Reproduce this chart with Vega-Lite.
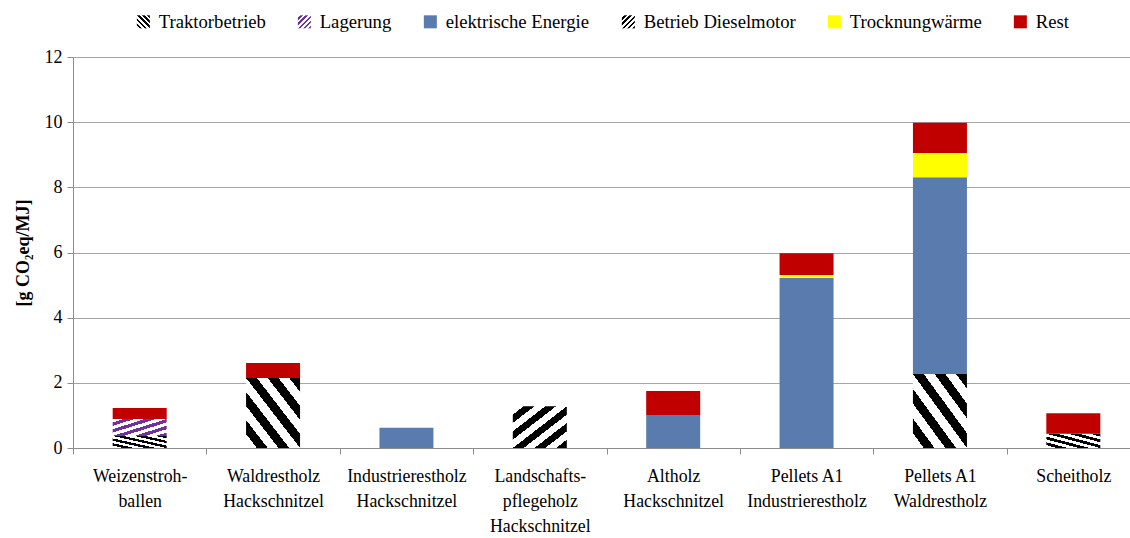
{
  "$schema": "https://vega.github.io/schema/vega-lite/v6.json",
  "width": 1067,
  "height": 391,
  "autosize": "none",
  "padding": {"left": 73, "top": 57, "right": 0, "bottom": 90},
  "background": "white",
  "config": {
    "view": {"stroke": null},
    "font": "Liberation Serif",
    "axis": {"labelFont": "Liberation Serif", "titleFont": "Liberation Serif", "labelColor": "black", "titleColor": "black"},
    "legend": {"labelFont": "Liberation Serif"}
  },
  "data": {
    "values": [
      {"category": "Weizenstroh-\nballen", "component": "Traktorbetrieb", "value": 0.37, "k": 1},
      {"category": "Weizenstroh-\nballen", "component": "Lagerung", "value": 0.52, "k": 2},
      {"category": "Weizenstroh-\nballen", "component": "Rest", "value": 0.34, "k": 6},
      {"category": "Waldrestholz\nHackschnitzel", "component": "Traktorbetrieb", "value": 2.15, "k": 1},
      {"category": "Waldrestholz\nHackschnitzel", "component": "Rest", "value": 0.46, "k": 6},
      {"category": "Industrierestholz\nHackschnitzel", "component": "elektrische Energie", "value": 0.62, "k": 3},
      {"category": "Landschafts-\npflegeholz\nHackschnitzel", "component": "Betrieb Dieselmotor", "value": 1.28, "k": 4},
      {"category": "Altholz\nHackschnitzel", "component": "elektrische Energie", "value": 1.01, "k": 3},
      {"category": "Altholz\nHackschnitzel", "component": "Rest", "value": 0.74, "k": 6},
      {"category": "Pellets A1\nIndustrierestholz", "component": "elektrische Energie", "value": 5.22, "k": 3},
      {"category": "Pellets A1\nIndustrierestholz", "component": "Trocknungwärme", "value": 0.09, "k": 5},
      {"category": "Pellets A1\nIndustrierestholz", "component": "Rest", "value": 0.67, "k": 6},
      {"category": "Pellets A1\nWaldrestholz", "component": "Traktorbetrieb", "value": 2.27, "k": 1},
      {"category": "Pellets A1\nWaldrestholz", "component": "elektrische Energie", "value": 6.04, "k": 3},
      {"category": "Pellets A1\nWaldrestholz", "component": "Trocknungwärme", "value": 0.74, "k": 5},
      {"category": "Pellets A1\nWaldrestholz", "component": "Rest", "value": 0.93, "k": 6},
      {"category": "Scheitholz", "component": "Traktorbetrieb", "value": 0.44, "k": 1},
      {"category": "Scheitholz", "component": "Rest", "value": 0.63, "k": 6}
    ]
  },
  "mark": {"type": "bar", "width": 54},
  "encoding": {
    "x": {
      "field": "category",
      "type": "nominal",
      "sort": null,
      "scale": {"paddingInner": 0, "paddingOuter": 0},
      "axis": {
        "title": null,
        "labelAngle": 0,
        "labelExpr": "split(datum.label, '\\n')",
        "tickBand": "extent",
        "labelFontSize": 17.8,
        "labelPadding": 13,
        "labelLineHeight": 25,
        "labelBaseline": "top",
        "domainColor": "#8c8c8c",
        "tickColor": "#8c8c8c",
        "tickSize": 6
      }
    },
    "y": {
      "field": "value",
      "type": "quantitative",
      "stack": "zero",
      "scale": {"domain": [0, 12], "nice": false},
      "axis": {
        "values": [0, 2, 4, 6, 8, 10, 12],
        "title": "[g CO₂eq/MJ]",
        "titleFontSize": 18,
        "titleFontWeight": "bold",
        "titlePadding": 12,
        "labelFontSize": 18,
        "labelPadding": 5,
        "grid": true,
        "gridColor": "#a6a6a6",
        "domainColor": "#8c8c8c",
        "tickColor": "#8c8c8c",
        "tickSize": 6
      }
    },
    "color": {
      "field": "component",
      "type": "nominal",
      "scale": {
        "domain": ["Traktorbetrieb", "Lagerung", "elektrische Energie", "Betrieb Dieselmotor", "Trocknungwärme", "Rest"],
        "range": [
          {"expr": "{gradient:'linear',x1:0,y1:1,x2:1,y2:0,stops:[{offset:0,color:'white'},{offset:0.1,color:'white'},{offset:0.1,color:'black'},{offset:0.2,color:'black'},{offset:0.2,color:'white'},{offset:0.3,color:'white'},{offset:0.3,color:'black'},{offset:0.4,color:'black'},{offset:0.4,color:'white'},{offset:0.5,color:'white'},{offset:0.5,color:'black'},{offset:0.6,color:'black'},{offset:0.6,color:'white'},{offset:0.7,color:'white'},{offset:0.7,color:'black'},{offset:0.8,color:'black'},{offset:0.8,color:'white'},{offset:0.9,color:'white'},{offset:0.9,color:'black'},{offset:1,color:'black'}]}"},
          {"expr": "{gradient:'linear',x1:0,y1:0,x2:1,y2:1,stops:[{offset:0,color:'white'},{offset:0.1,color:'white'},{offset:0.1,color:'#7030a0'},{offset:0.2,color:'#7030a0'},{offset:0.2,color:'white'},{offset:0.3,color:'white'},{offset:0.3,color:'#7030a0'},{offset:0.4,color:'#7030a0'},{offset:0.4,color:'white'},{offset:0.5,color:'white'},{offset:0.5,color:'#7030a0'},{offset:0.6,color:'#7030a0'},{offset:0.6,color:'white'},{offset:0.7,color:'white'},{offset:0.7,color:'#7030a0'},{offset:0.8,color:'#7030a0'},{offset:0.8,color:'white'},{offset:0.9,color:'white'},{offset:0.9,color:'#7030a0'},{offset:1,color:'#7030a0'}]}"},
          "#5a7bad",
          {"expr": "{gradient:'linear',x1:0,y1:0,x2:1,y2:1,stops:[{offset:0,color:'white'},{offset:0.1,color:'white'},{offset:0.1,color:'black'},{offset:0.2,color:'black'},{offset:0.2,color:'white'},{offset:0.3,color:'white'},{offset:0.3,color:'black'},{offset:0.4,color:'black'},{offset:0.4,color:'white'},{offset:0.5,color:'white'},{offset:0.5,color:'black'},{offset:0.6,color:'black'},{offset:0.6,color:'white'},{offset:0.7,color:'white'},{offset:0.7,color:'black'},{offset:0.8,color:'black'},{offset:0.8,color:'white'},{offset:0.9,color:'white'},{offset:0.9,color:'black'},{offset:1,color:'black'}]}"},
          "#ffff00",
          "#c00000"
        ]
      },
      "legend": {
        "title": null,
        "orient": "none",
        "legendX": 61,
        "legendY": -45,
        "direction": "horizontal",
        "columns": 6,
        "columnPadding": 29,
        "padding": 0,
        "symbolType": "square",
        "symbolSize": 169,
        "symbolStrokeWidth": 0,
        "labelFontSize": 18.7,
        "labelOffset": 6,
        "labelColor": "black"
      }
    },
    "order": {"field": "k", "type": "quantitative"}
  }
}
